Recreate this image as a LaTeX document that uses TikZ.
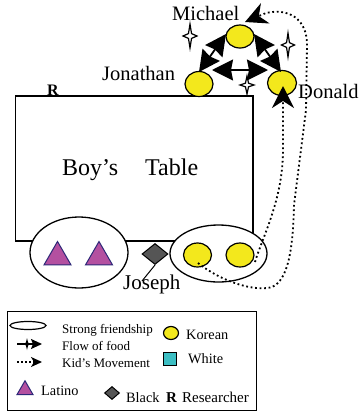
\documentclass[tikz,border=0pt]{standalone}
\usepackage{fontspec}
\setmainfont{Liberation Serif}
\usetikzlibrary{shapes.geometric,arrows.meta}
\definecolor{kor}{RGB}{243,232,28}
\definecolor{lat}{RGB}{180,80,160}
\definecolor{latb}{RGB}{45,40,120}
\definecolor{blk}{RGB}{85,85,85}
\definecolor{wht}{RGB}{60,190,195}
\tikzset{
  txt/.style={anchor=base west, inner sep=0pt, font=\fontsize{20.5}{24}\selectfont},
  ltxt/.style={anchor=base west, inner sep=0pt, font=\fontsize{13}{15}\selectfont},
  mtxt/.style={anchor=base west, inner sep=0pt, font=\fontsize{14.3}{16}\selectfont},
  ell/.style={ellipse, draw, line width=1.3pt, fill=white, inner sep=0pt},
  kc/.style={ellipse, draw, fill=kor, line width=1.2pt, minimum width=28pt, minimum height=24pt, inner sep=0pt},
  tri/.style={regular polygon, regular polygon sides=3, draw=latb, fill=lat, line width=1pt, minimum size=31pt, inner sep=0pt},
  dia/.style={diamond, draw, fill=blk, line width=1pt, minimum width=26pt, minimum height=21pt, inner sep=0pt},
  food/.style={line width=1.8pt, arrows={Stealth[length=21pt 0,width=21pt 0,inset=2pt 0]-Stealth[length=21pt 0,width=21pt 0,inset=2pt 0]}},
  kid/.style={line width=1.8pt, dash pattern=on 1.8pt off 2.7pt, arrows={-Stealth[length=22pt 0,width=22pt 0,inset=7pt 0]}},
  kidsmall/.style={line width=1.5pt, dash pattern=on 1.6pt off 2.4pt, arrows={-Stealth[length=11pt 0,width=10pt 0,inset=3pt 0]}},
  foodstar/.pic={\draw[line width=1.2pt, fill=white] (0,-1) -- (0.22,-0.2) -- (1,0) -- (0.22,0.2) -- (0,1) -- (-0.22,0.2) -- (-1,0) -- (-0.22,-0.2) -- cycle;},
  foodstarblack/.pic={\fill (0,-1) -- (0.3,-0.25) -- (1,0) -- (0.3,0.25) -- (0,1) -- (-0.3,0.25) -- (-1,0) -- (-0.3,-0.25) -- cycle;}
}
\begin{document}
\begin{tikzpicture}[x=1pt,y=-1pt]
\useasboundingbox (0,0) rectangle (359,413);

% table
\node[draw, line width=1.4pt, minimum width=237.5pt, minimum height=145pt, inner sep=0pt] (table) at (134.25,168.5) {};
\node[txt, font=\fontsize{24}{28}\selectfont] (boys) at (62,175) {Boy's};
\node[txt, font=\fontsize{24}{28}\selectfont] (tbl) at (145,175) {Table};
\node[txt, font=\fontsize{16}{18}\selectfont\bfseries] (res) at (47,95.5) {R};

% Latino group
\node[ell, minimum width=98pt, minimum height=71pt] (latino) at (79,252.5) {};
\node[tri] (t1) at (57.5,257) {};
\node[tri] (t2) at (99,257) {};

% Joseph
\node[dia] (jd) at (155,254) {};
\node[txt, font=\fontsize{21}{24}\selectfont] (joseph) at (123,289) {Joseph};
\coordinate (jtop) at (142,281);
\draw[line width=1pt] (jd.south) -- (jtop);

% Korean group
\node[ell, minimum width=97pt, minimum height=57pt] (korgrp) at (218.5,253.5) {};
\node[kc] (k1) at (197.5,255) {};
\node[kc] (k2) at (240,255) {};

% top kids
\node[kc, minimum width=28pt, minimum height=23pt] (mi) at (240,36.5) {};
\node[kc, minimum width=28pt, minimum height=25pt] (jo) at (199,84) {};
\node[kc, minimum width=29pt, minimum height=25pt] (do) at (282,83) {};
\node[txt] (mitxt) at (172,20) {Michael};
\node[txt] (jotxt) at (102,80) {Jonathan};
\node[txt] (dotxt) at (298,98) {Donald};

% flow of food
\coordinate (mj1) at (226,34);
\coordinate (mj2) at (199,72);
\coordinate (md1) at (254,34);
\coordinate (md2) at (281,72);
\coordinate (jd1) at (212,70);
\coordinate (jd2) at (268,70);
\draw[food] (mj1) -- (mj2);
\draw[food] (md1) -- (md2);
\draw[food] (jd1) -- (jd2);
\pic[xscale=7,yscale=12] at (190,36) {foodstar};
\pic[xscale=6.5,yscale=12] at (288,45) {foodstar};
\pic[xscale=7,yscale=9] at (247,85) {foodstar};

% kids' movement
\coordinate (is) at (255,262);
\coordinate (ie) at (283,86);
\draw[kid] (is) .. controls (262,238) and (283,200) .. (283,150) -- (ie);
\coordinate (os) at (198,263);
\coordinate (oe) at (245,22);
\draw[kid] (os) .. controls (222,282) and (255,292) .. (272,287)
  .. controls (288,280) and (293,250) .. (294,205)
  -- (306,110) -- (307,45)
  .. controls (307,18) and (288,8) .. (266,13) -- (oe);

% legend
\node[draw, line width=1pt, minimum width=249pt, minimum height=99pt, inner sep=0pt] (legend) at (131.5,360.5) {};
\node[ellipse, draw, line width=1.2pt, minimum width=36pt, minimum height=8pt, inner sep=0pt] (lgell) at (28,325.5) {};
\coordinate (lf1) at (17,344);
\coordinate (lf2) at (42,344);
\draw[line width=1.5pt, arrows={-Stealth[length=11pt 0,width=10pt 0,inset=2pt 0]}] (lf1) -- (lf2);
\pic[xscale=3.5,yscale=6] at (27,344) {foodstarblack};
\coordinate (lk1) at (17,362);
\coordinate (lk2) at (42,362);
\draw[kidsmall] (lk1) -- (lk2);
\node[kc, minimum width=15pt, minimum height=13pt] (lgk) at (171,333) {};
\node[draw, fill=wht, line width=1pt, minimum size=13pt, inner sep=0pt] (lgw) at (170,359) {};
\node[tri, minimum size=18.5pt] (lgt) at (25,390) {};
\node[dia, minimum width=15pt, minimum height=13pt] (lgd) at (112,393) {};
\node[ltxt] (l1) at (62,333) {Strong friendship};
\node[ltxt] (l2) at (62,350) {Flow of food};
\node[ltxt] (l3) at (62,367) {Kid's Movement};
\node[mtxt] (l4) at (186,339) {Korean};
\node[mtxt] (l5) at (188,363) {White};
\node[mtxt] (l6) at (41,395) {Latino};
\node[mtxt] (l7) at (126,402) {Black};
\node[mtxt, font=\fontsize{15}{17}\selectfont\bfseries] (l8) at (166,402) {R};
\node[mtxt, font=\fontsize{15}{17}\selectfont] (l9) at (182,402) {Researcher};
\end{tikzpicture}
\end{document}
